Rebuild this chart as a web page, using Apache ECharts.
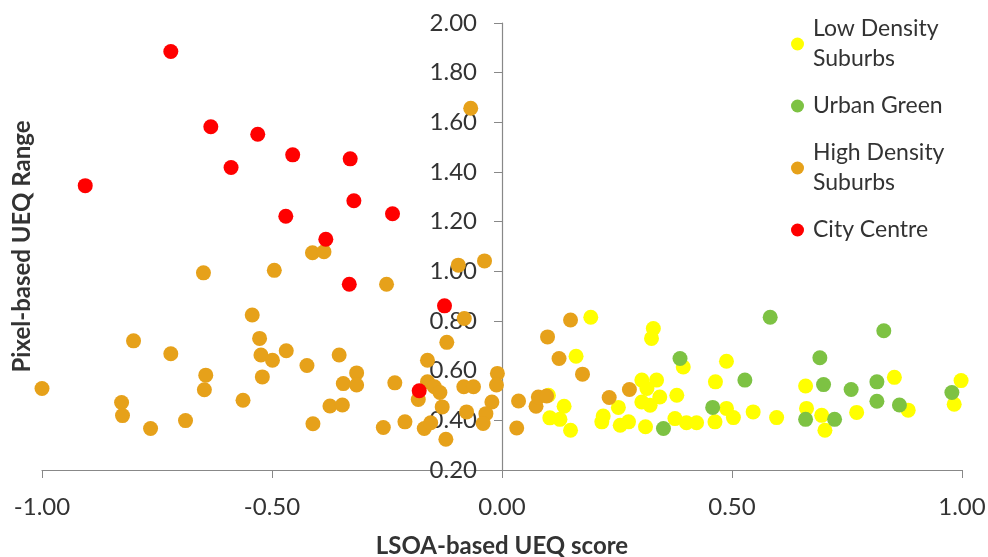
<!DOCTYPE html>
<html><head><meta charset="utf-8">
<script src="https://cdn.jsdelivr.net/npm/echarts@6/dist/echarts.min.js"></script>
<style>html,body{margin:0;padding:0;background:#fff}#c{width:988px;height:557px}</style>
</head><body><div id="c"></div>
<script>
const seriesNames = ['Low Density Suburbs', 'Urban Green', 'High Density Suburbs', 'City Centre'];
const legendLabels = ['Low Density\nSuburbs', 'Urban Green', 'High Density\nSuburbs', 'City Centre'];
const seriesColors = ['#FFFF00', '#7DC243', '#E6A11A', '#FF0000'];
const xTicks = [-1.0, -0.5, 0.0, 0.5, 1.0];
const yTicks = [0.2, 0.4, 0.6, 0.8, 1.0, 1.2, 1.4, 1.6, 1.8, 2.0];

const lowDensity = [[0.193,0.815],[0.329,0.77],[0.325,0.73],[0.161,0.658],[0.101,0.501],[0.135,0.457],[0.104,0.41],[0.126,0.404],[0.149,0.36],[0.22,0.417],[0.217,0.394],[0.253,0.452],[0.257,0.38],[0.275,0.394],[0.312,0.374],[0.304,0.562],[0.336,0.562],[0.315,0.528],[0.343,0.494],[0.304,0.474],[0.322,0.461],[0.38,0.501],[0.376,0.407],[0.394,0.615],[0.488,0.638],[0.464,0.555],[0.488,0.448],[0.503,0.411],[0.546,0.434],[0.597,0.411],[0.463,0.394],[0.401,0.39],[0.423,0.39],[0.66,0.538],[0.662,0.448],[0.695,0.42],[0.702,0.36],[0.853,0.573],[0.883,0.441],[0.771,0.432],[0.998,0.56],[0.983,0.465]];
const urbanGreen = [[0.583,0.815],[0.387,0.649],[0.351,0.367],[0.528,0.562],[0.458,0.452],[0.691,0.652],[0.699,0.544],[0.66,0.404],[0.83,0.761],[0.759,0.524],[0.815,0.555],[0.815,0.477],[0.864,0.462],[0.723,0.404],[0.978,0.512]];
const highDensity = [[-1.0,0.528],[-0.827,0.472],[-0.825,0.419],[-0.764,0.367],[-0.801,0.72],[-0.72,0.668],[-0.688,0.399],[-0.649,0.994],[-0.644,0.582],[-0.647,0.523],[-0.563,0.481],[-0.543,0.824],[-0.527,0.73],[-0.524,0.663],[-0.499,0.642],[-0.521,0.575],[-0.495,1.004],[-0.469,0.68],[-0.424,0.621],[-0.411,0.386],[-0.412,1.075],[-0.387,1.079],[-0.354,0.663],[-0.345,0.548],[-0.374,0.458],[-0.347,0.462],[-0.316,0.591],[-0.316,0.542],[-0.251,0.948],[-0.095,1.025],[-0.038,1.042],[-0.082,0.81],[-0.12,0.714],[-0.162,0.642],[-0.233,0.551],[-0.182,0.484],[-0.162,0.555],[-0.147,0.535],[-0.135,0.512],[-0.13,0.454],[-0.083,0.535],[-0.062,0.535],[-0.01,0.589],[-0.012,0.542],[-0.022,0.474],[-0.035,0.427],[-0.041,0.387],[-0.077,0.434],[-0.169,0.367],[-0.211,0.394],[-0.258,0.371],[-0.122,0.324],[-0.155,0.39],[-0.068,1.657],[0.149,0.804],[0.099,0.736],[0.124,0.649],[0.175,0.586],[0.036,0.478],[0.032,0.369],[0.074,0.457],[0.079,0.494],[0.097,0.498],[0.233,0.492],[0.277,0.524]];
const cityCentre = [[-0.72,1.885],[-0.633,1.582],[-0.531,1.552],[-0.455,1.469],[-0.589,1.418],[-0.906,1.345],[-0.47,1.222],[-0.383,1.129],[-0.33,1.453],[-0.322,1.284],[-0.238,1.232],[-0.332,0.948],[-0.125,0.861],[-0.18,0.519]];

const seriesData = [lowDensity, urbanGreen, highDensity, cityCentre];
const legendTops = [-6, 86, 118, 210];

const FONT = 'Lato, "Open Sans", sans-serif';
const chart = echarts.init(document.getElementById('c'), null, {renderer: 'canvas'});

const legends = seriesNames.map((n, i) => {
  const twoLine = legendLabels[i].indexOf('\n') >= 0;
  return {
    left: 786, top: legendTops[i], orient: 'vertical',
    itemWidth: 21, itemHeight: 13, icon: 'circle',
    data: [n],
    selectedMode: false,
    formatter: () => legendLabels[i],
    textStyle: {fontFamily: FONT, fontSize: 23, color: '#333', lineHeight: 30,
      padding: twoLine ? [30, 0, 0, 0] : 0}
  };
});

chart.setOption({
  animation: false,
  backgroundColor: '#fff',
  grid: {left: 42, right: 26, top: 23, bottom: 87, containLabel: false, outerBoundsMode: 'none'},
  legend: legends,
  xAxis: {
    type: 'value', min: xTicks[0], max: xTicks[xTicks.length - 1], interval: 0.5,
    name: 'LSOA-based UEQ score', nameLocation: 'middle', nameGap: 64, nameMoveOverlap: false,
    nameTextStyle: {fontFamily: FONT, fontSize: 24, fontWeight: 'bold', color: '#333'},
    axisLine: {onZero: false, lineStyle: {color: '#888', width: 1.2}},
    axisTick: {show: true, inside: false, length: 8, lineStyle: {color: '#888'}},
    axisLabel: {margin: 25, fontFamily: FONT, fontSize: 24, color: '#333',
      formatter: v => v.toFixed(2)},
    splitLine: {show: false}
  },
  yAxis: {
    type: 'value', min: yTicks[0], max: yTicks[yTicks.length - 1], interval: 0.2,
    position: 'left', offset: -460,
    name: 'Pixel-based UEQ Range', nameLocation: 'middle', nameGap: 468, nameMoveOverlap: false,
    nameTextStyle: {fontFamily: FONT, fontSize: 24, fontWeight: 'bold', color: '#333'},
    axisLine: {onZero: false, lineStyle: {color: '#888', width: 1.2}},
    axisTick: {show: true, inside: false, length: 8, lineStyle: {color: '#888'}},
    axisLabel: {margin: 25, fontFamily: FONT, fontSize: 24, color: '#333',
      formatter: v => v.toFixed(2)},
    splitLine: {show: false}
  },
  series: seriesNames.map((n, i) => ({
    name: n, type: 'scatter', symbol: 'circle', symbolSize: 15,
    itemStyle: {color: seriesColors[i], opacity: 1},
    data: seriesData[i], z: 2 + i
  }))
});
</script></body></html>
